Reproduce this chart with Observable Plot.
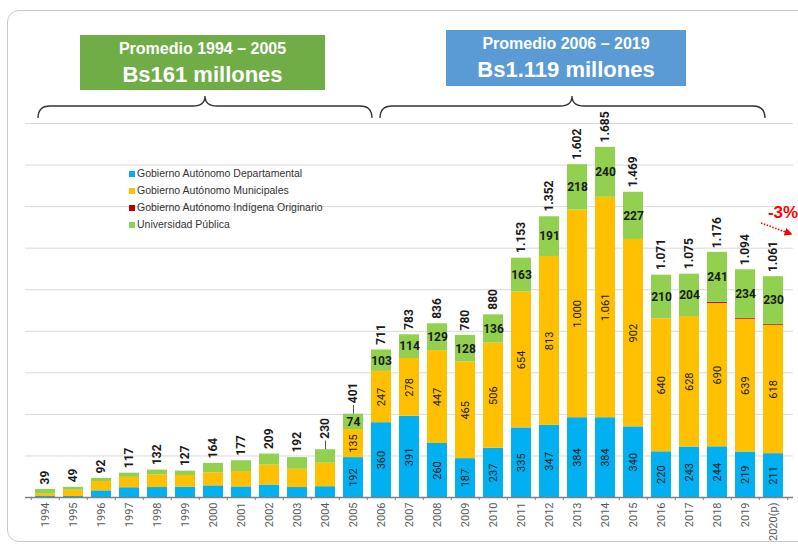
<!DOCTYPE html>
<html>
<head>
<meta charset="utf-8">
<script src="https://cdn.jsdelivr.net/npm/d3@7"></script>
<script src="https://cdn.jsdelivr.net/npm/@observablehq/plot@0.6"></script>
<style>
  html, body { margin: 0; padding: 0; background: #fff; }
  #wrap { position: relative; width: 798px; height: 544px; overflow: hidden; }
  #wrap > svg.plot { position: absolute; left: 0; top: 0; }
  .frame { position: absolute; left: 7px; top: 10px; width: 840px; height: 532px;
           border: 1px solid #c9c9c9; border-radius: 12px; box-sizing: border-box; }
  .box { position: absolute; color: #fff; font-family: "Liberation Sans", Arial, sans-serif;
         font-weight: bold; text-align: center; box-sizing: border-box; }
  .box .l1 { font-size: 16px; line-height: 18px; }
  .box .l2 { font-size: 22px; line-height: 26px; margin-top: 4px; }
  .legend { position: absolute; left: 129px; top: 165px; font-family: "Liberation Sans", Arial, sans-serif;
            font-size: 10.5px; color: #333; }
  .legend div { height: 17px; line-height: 17px; white-space: nowrap; }
  .legend span.sw { display: inline-block; width: 6px; height: 6px; margin-right: 2px; vertical-align: 0px; }
  #over { position: absolute; left: 0; top: 0; }
</style>
</head>
<body>
<div id="wrap"></div>
<script>
const years = ["1994","1995","1996","1997","1998","1999","2000","2001","2002","2003","2004","2005",
  "2006","2007","2008","2009","2010","2011","2012","2013","2014","2015","2016","2017","2018","2019","2020(p)"];
const departamental = [5,5,32,47,48,50,56,51,60,48,52,192,360,391,260,187,237,335,347,384,384,340,220,243,244,219,211];
const municipales   = [11,30,45,50,60,56,63,74,96,88,113,135,247,278,447,465,506,654,813,1000,1061,902,640,628,690,639,618];
const indigena      = [0,0,0,0,0,0,0,0,0,0,0,0,0,0,0,0,0,0,0,0,0,0,0,0,5,4,4];
const universidad   = [23,14,15,20,24,21,45,52,53,56,65,74,103,114,129,128,136,163,191,218,240,227,210,204,241,234,230];
const totals        = [39,49,92,117,132,127,164,177,209,192,230,401,711,783,836,780,880,1153,1352,1602,1685,1469,1071,1075,1176,1094,1061];

const seriesNames = ["Gobierno Autónomo Departamental","Gobierno Autónomo Municipales","Gobierno Autónomo Indígena Originario","Universidad Pública"];
const seriesColors = ["#00B0F0","#FFC000","#C00000","#92D050"];
const seriesValues = [departamental, municipales, indigena, universidad];

const fmt = v => d3.format(",")(v).replace(/,/g, ".");

// stacked rows
const rows = [];
years.forEach((yr, i) => {
  let base = 0;
  seriesValues.forEach((arr, s) => {
    const v = arr[i];
    rows.push({year: yr, i, s, series: seriesNames[s], value: v, y1: base, y2: base + v, mid: base + v / 2});
    base += v;
  });
});
const totalRows = years.map((yr, i) => ({year: yr, i, total: totals[i]}));
const labelled = rows.filter(d => d.i >= 11 && d.value > 0 && d.s !== 2);

const W = 798, H = 544, mL = 25, mR = 5;
const step = (W - mL - mR) / years.length;

const plot = Plot.plot({
  width: W, height: H,
  marginTop: 123, marginBottom: 47, marginLeft: mL, marginRight: mR,
  x: {type: "band", domain: years, paddingInner: 0.3, paddingOuter: 0.15, axis: null},
  y: {domain: [0, 1800], axis: null},
  color: {domain: seriesNames, range: seriesColors},
  style: {fontFamily: "Roboto, 'Liberation Sans', sans-serif", background: "transparent", overflow: "visible"},
  marks: [
    Plot.gridY(d3.range(200, 1801, 200), {stroke: "#d9d9d9", strokeOpacity: 1}),
    Plot.barY(rows.filter(d => d.value > 0), {x: "year", y1: "y1", y2: "y2", fill: "series"}),
    Plot.ruleY([0], {stroke: "#7f7f7f", strokeWidth: 1.5}),
    Plot.ruleX(years, {x: d => d, y1: 0, y2: -15, dx: -step / 2, stroke: "#7f7f7f"}),
    Plot.ruleX([years[years.length - 1]], {x: d => d, y1: 0, y2: -15, dx: step / 2, stroke: "#7f7f7f"}),
    Plot.axisX({tickRotate: -90, tickSize: 0, tickPadding: 5, fontSize: 11, color: "#595959", label: null}),
    // segment labels (rotated) for departamental & municipales
    Plot.text(labelled.filter(d => d.s < 2), {x: "year", y: "mid", text: d => fmt(d.value), rotate: -90,
      fontSize: 11, fill: "#1a1a1a"}),
    // universidad labels horizontal bold
    Plot.text(labelled.filter(d => d.s === 3), {x: "year", y: "mid", text: d => fmt(d.value),
      fontSize: 12, fontWeight: "bold", fill: "#1a1a1a"}),
    // leader lines for 2004, 2005
    Plot.ruleX(totalRows.filter(d => d.i === 10 || d.i === 11), {x: "year", y1: d => d.total, y2: d => d.total + 42, stroke: "#555"}),
    // totals
    Plot.text(totalRows.filter(d => d.i !== 10 && d.i !== 11), {x: "year", y: "total", text: d => fmt(d.total), rotate: -90,
      textAnchor: "start", dy: -5, fontSize: 12, fontWeight: "bold", fill: "#1a1a1a"}),
    Plot.text(totalRows.filter(d => d.i === 10 || d.i === 11), {x: "year", y: "total", text: d => fmt(d.total), rotate: -90,
      textAnchor: "start", dy: -11, fontSize: 12, fontWeight: "bold", fill: "#1a1a1a"})
  ]
});
plot.classList.add("plot");
const wrap = document.getElementById("wrap");
wrap.appendChild(plot);

// frame
const frame = document.createElement("div");
frame.className = "frame";
wrap.appendChild(frame);

// boxes
function addBox(x, y, w, h, bg, l1, l2) {
  const b = document.createElement("div");
  b.className = "box";
  Object.assign(b.style, {left: x + "px", top: y + "px", width: w + "px", height: h + "px", background: bg, paddingTop: "5px"});
  b.innerHTML = `<div class="l1">${l1}</div><div class="l2">${l2}</div>`;
  wrap.appendChild(b);
}
addBox(80, 35, 245, 55, "#70AD47", "Promedio 1994 – 2005", "Bs161 millones");
addBox(446, 30, 240, 56, "#5B9BD5", "Promedio 2006 – 2019", "Bs1.119 millones");

// legend
const leg = document.createElement("div");
leg.className = "legend";
leg.innerHTML = seriesNames.map((n, i) => `<div><span class="sw" style="background:${seriesColors[i]}"></span>${n}</div>`).join("");
wrap.appendChild(leg);

// overlay: braces and arrow annotation
const ns = "http://www.w3.org/2000/svg";
const over = document.createElementNS(ns, "svg");
over.setAttribute("id", "over");
over.setAttribute("width", W);
over.setAttribute("height", H);
over.innerHTML = `
  <defs><marker id="ah" viewBox="0 0 10 10" refX="8" refY="5" markerWidth="5" markerHeight="5" orient="auto">
    <path d="M0,0 L10,5 L0,10 z" fill="#FF0000"/></marker></defs>
  <path d="M38,118 Q38,106 50,106 L193,106 Q205,106 205,96 Q205,106 217,106 L360,106 Q372,106 372,118" fill="none" stroke="#333" stroke-width="1.3"/>
  <path d="M380,118 Q380,106 392,106 L560,106 Q572,106 572,96 Q572,106 584,106 L753,106 Q765,106 765,118" fill="none" stroke="#333" stroke-width="1.3"/>
  <text x="783" y="218" text-anchor="middle" fill="#FF0000" font-family="'Liberation Sans', Arial, sans-serif" font-weight="bold" font-size="17">-3%</text>
  <line x1="761" y1="223" x2="791" y2="234" stroke="#FF0000" stroke-width="1.6" stroke-dasharray="1.5,1.5" marker-end="url(#ah)"/>
`;
wrap.appendChild(over);
</script>
</body>
</html>
